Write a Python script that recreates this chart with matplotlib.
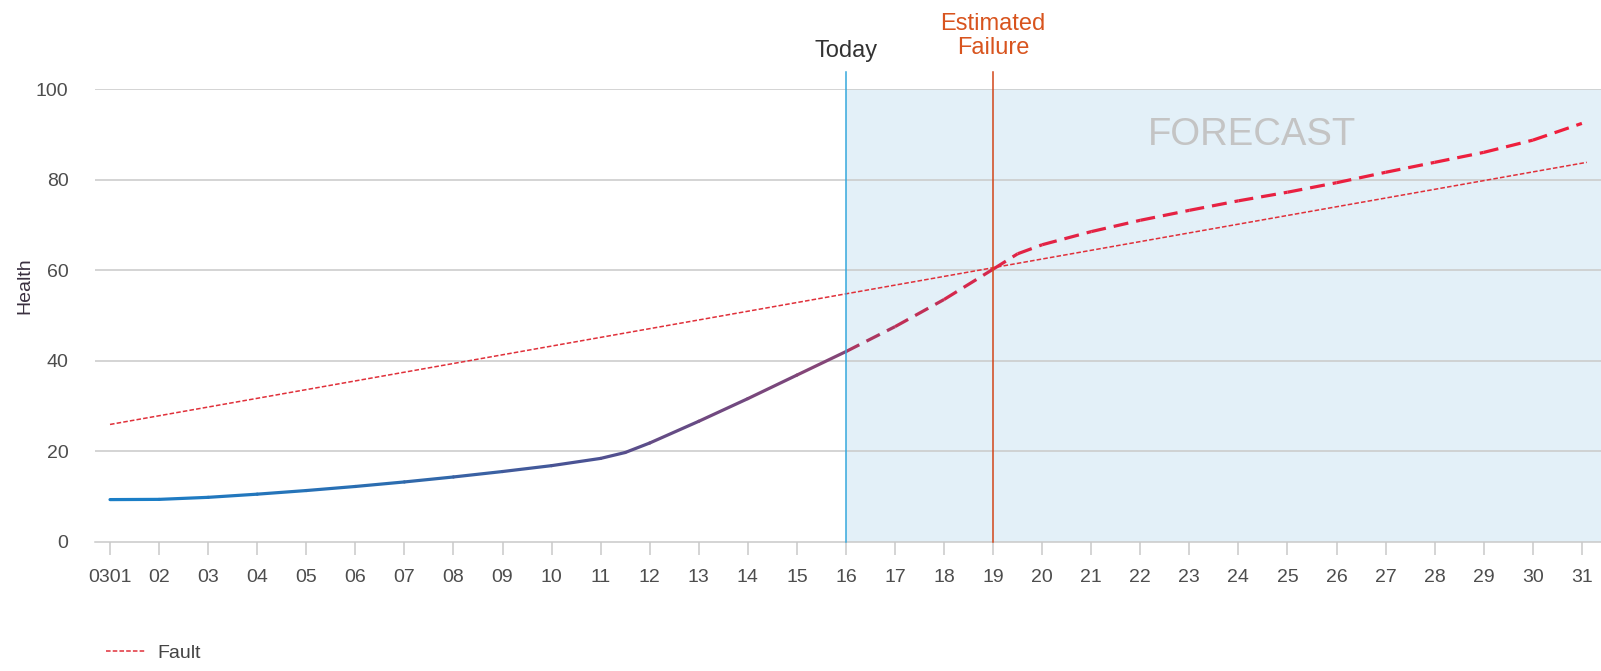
"""Health forecast chart: history, forecast, fault threshold, today / estimated failure markers."""

import numpy as np
import matplotlib
matplotlib.use("Agg")
import matplotlib.pyplot as plt
from matplotlib.collections import LineCollection
from matplotlib.colors import LinearSegmentedColormap

plt.rcParams["font.family"] = ["Liberation Sans", "DejaVu Sans"]

# Days of the month (March)
days = list(range(1, 32))
day_labels = ["0301"] + [f"{d:02d}" for d in range(2, 32)]

# Health values (history up to today, then forecast)
history_days = [1, 2, 3, 4, 5, 6, 7, 8, 9, 10, 11, 11.5, 12, 13, 14, 15, 16]
history_health = [9.3, 9.35, 9.8, 10.5, 11.3, 12.2, 13.2, 14.3, 15.5, 16.8,
                  18.4, 19.7, 21.8, 26.6, 31.6, 36.8, 42.0]
forecast_days = [16, 17, 18, 19, 19.5, 20, 21, 22, 23, 24, 25, 26, 27, 28, 29, 30, 31]
forecast_health = [42.0, 47.5, 53.5, 60.2, 63.6, 65.6, 68.5, 71.0, 73.2, 75.3,
                   77.2, 79.3, 81.6, 83.8, 86.0, 88.7, 92.4]

# Fault threshold line (straight)
fault_days = [1, 31.1]
fault_health = [25.9, 83.8]

TODAY = 16
FAILURE = 19


def segments(xs, ys):
    pts = np.column_stack([xs, ys])
    return np.stack([pts[:-1], pts[1:]], axis=1)


def seg_colors(xs, cmap, x0, x1):
    mids = (np.asarray(xs[:-1]) + np.asarray(xs[1:])) / 2.0
    return cmap(np.clip((mids - x0) / (x1 - x0), 0, 1))


hist_cmap = LinearSegmentedColormap.from_list(
    "hist", [(0, "#1a80c8"), (0.4, "#2d6bae"), (0.65, "#4c5292"), (0.8, "#6c4a82"), (1, "#884576")])
fc_cmap = LinearSegmentedColormap.from_list(
    "fc", [(0, "#a23a66"), (0.2, "#e02446"), (1, "#f01e3c")])

W, H = 1601, 671
fig = plt.figure(figsize=(W / 100, H / 100), dpi=100)
ax = fig.add_axes([95 / W, 1 - 541.7 / H, (W - 95) / W, (541.7 - 89) / H])

ax.set_xlim(0.694, 31.39)
ax.set_ylim(0, 100)

# forecast shading
ax.axvspan(TODAY, 31.39, color="#e3f0f8", zorder=0, lw=0)

# grid
for v in range(20, 101, 20):
    ax.axhline(v, color="#c9c9c9", lw=1.1, zorder=1)

ax.text(24.27, 89.8, "FORECAST", fontsize=27.5, color="#c4c4c4", ha="center",
        va="center", zorder=2)

# fault
ax.plot(fault_days, fault_health, color="#e0303a", lw=1.1, dashes=(3.0, 1.4),
        zorder=3, label="Fault")

# history: solid, blue -> purple
lc = LineCollection(segments(history_days, history_health),
                    colors=seg_colors(history_days, hist_cmap, 1, 16),
                    linewidths=2.3, capstyle="round", joinstyle="round", zorder=4)
ax.add_collection(lc)

# forecast: dashed, purple-red -> red
lc = LineCollection(segments(forecast_days, forecast_health),
                    colors=seg_colors(forecast_days, fc_cmap, 16, 31),
                    linewidths=2.3, linestyles=[(0, (4.7, 2.5))], zorder=4)
ax.add_collection(lc)

# vertical markers (extend above the plot)
ax.plot([TODAY, TODAY], [0, 103.8], color="#35a8dc", lw=1.1, clip_on=False, zorder=5)
ax.plot([FAILURE, FAILURE], [0, 103.8], color="#d2461a", lw=1.1, clip_on=False, zorder=5)
ax.text(TODAY, 108.5, "Today", ha="center", va="center", fontsize=17, color="#333333")
ax.text(FAILURE, 111.7, "Estimated\nFailure", ha="center", va="center", fontsize=17,
        color="#d8541e", linespacing=1.12)

# axes styling
for s in ("top", "right", "left"):
    ax.spines[s].set_visible(False)
ax.spines["bottom"].set_color("#c9c9c9")
ax.spines["bottom"].set_linewidth(1.1)
ax.spines["bottom"].set_zorder(1)

ax.set_xticks(days)
ax.set_xticklabels(day_labels)
ax.set_yticks(range(0, 101, 20))
ax.tick_params(axis="x", length=9.6, width=1.1, color="#c9c9c9", pad=10,
               labelsize=14, labelcolor="#4d4d4d")
ax.tick_params(axis="y", length=0, pad=19, labelsize=14, labelcolor="#4d4d4d")
ax.set_ylabel("Health", fontsize=14, color="#3a3040")
ax.yaxis.set_label_coords(-0.041, 0.565)

fig.legend(loc="center left", bbox_to_anchor=(88 / W, 1 - 653 / H), frameon=False,
           fontsize=14, handlelength=2.06, handletextpad=0.62, labelcolor="#444444")

fig.savefig("out.png", dpi=100)
